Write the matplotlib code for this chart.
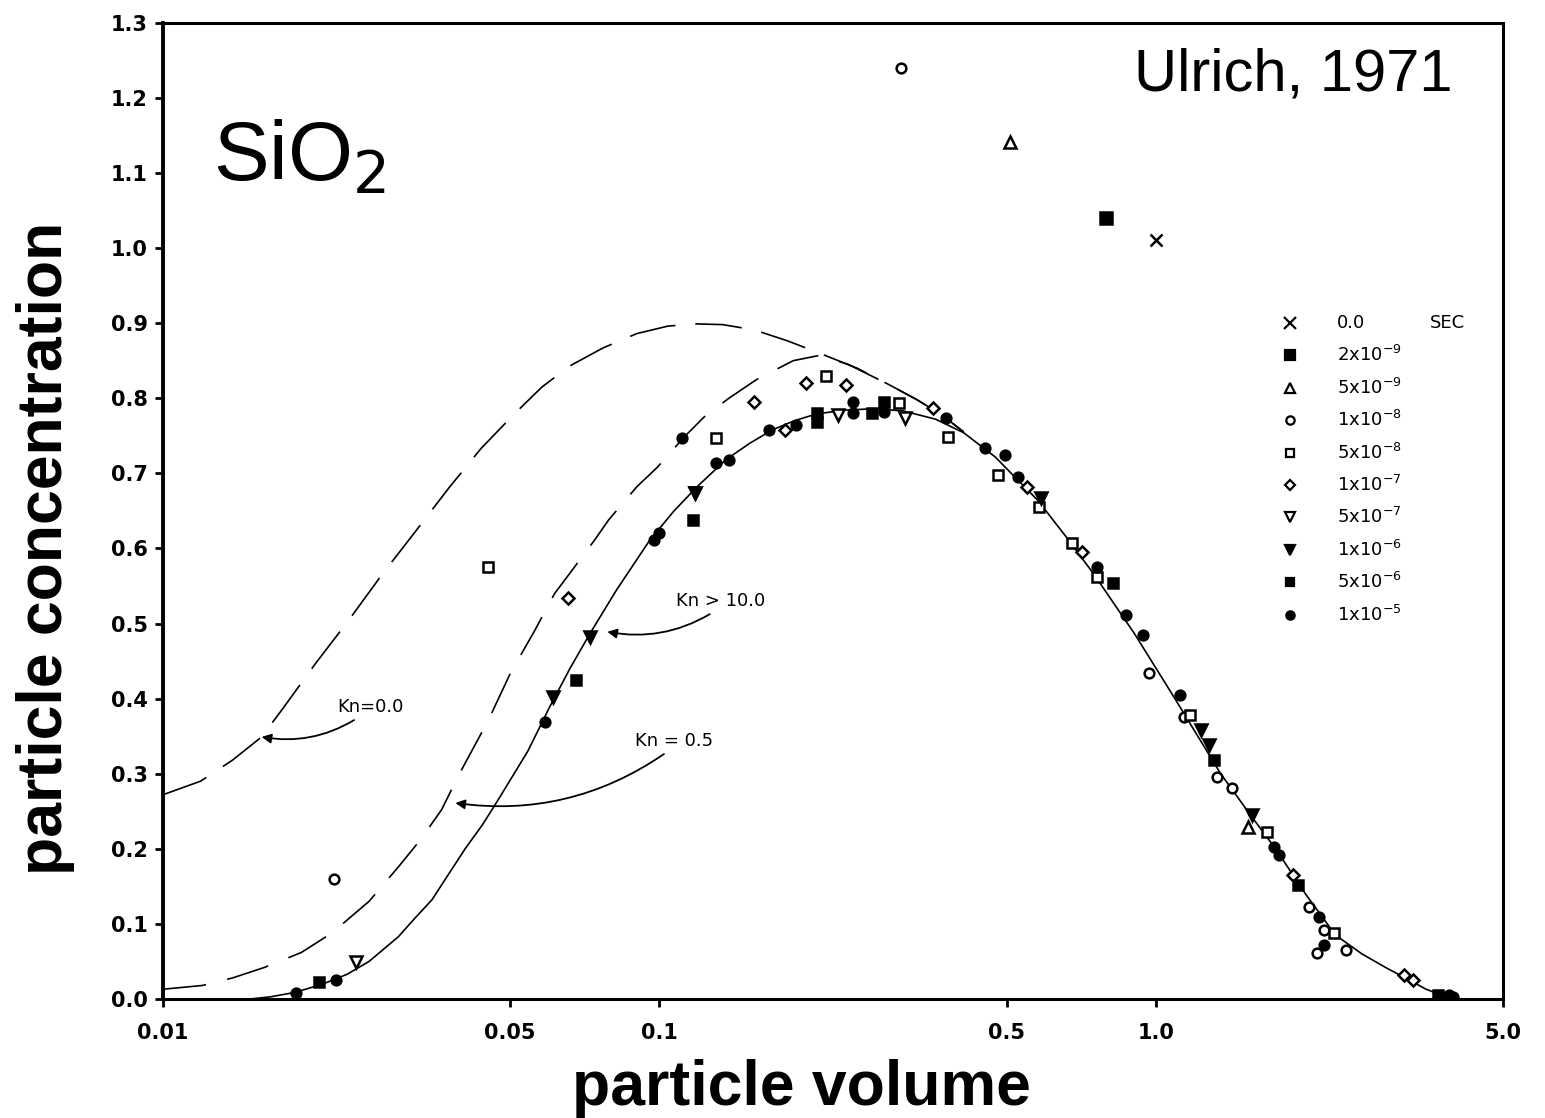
import matplotlib
matplotlib.use("Agg")
import matplotlib.pyplot as plt

# Ulrich (1971) SiO2 self-preserving size distribution

# model curves: particle volume vs particle concentration
kn10_x = [0.0150, 0.0165, 0.0185, 0.0210, 0.0235, 0.0260, 0.0298, 0.0320, 0.0348, 0.0375,
          0.0406, 0.0440, 0.0473, 0.0543, 0.0600, 0.0660, 0.0725, 0.0820, 0.0956, 0.1070,
          0.1190, 0.1360, 0.1520, 0.1690, 0.1870, 0.2070, 0.2350, 0.2700, 0.3100, 0.3600,
          0.4100, 0.4740, 0.5780, 0.6600, 0.7510, 0.9040, 1.0870, 1.3500, 1.5500, 1.7500,
          2.0000, 2.3000, 2.6000, 2.9000, 3.2000, 3.5000, 3.8000, 3.9600]
kn10_y = [0.000, 0.003, 0.009, 0.020, 0.033, 0.050, 0.083, 0.106, 0.132, 0.165,
          0.200, 0.232, 0.265, 0.330, 0.388, 0.440, 0.487, 0.545, 0.611, 0.650,
          0.682, 0.718, 0.740, 0.758, 0.770, 0.779, 0.784, 0.786, 0.783, 0.772,
          0.754, 0.722, 0.664, 0.615, 0.565, 0.487, 0.402, 0.300, 0.245, 0.198,
          0.140, 0.085, 0.060, 0.042, 0.027, 0.013, 0.004, 0.000]

kn05_x = [0.0100, 0.0120, 0.0138, 0.0160, 0.0190, 0.0219, 0.0260, 0.0298, 0.0330, 0.0364,
          0.0394, 0.0452, 0.0501, 0.0560, 0.0615, 0.0660, 0.0740, 0.0790, 0.0900, 0.0990,
          0.1120, 0.1230, 0.1380, 0.1570, 0.1860, 0.2100, 0.2400, 0.2900, 0.3300, 0.3700,
          0.4100]
kn05_y = [0.013, 0.018, 0.028, 0.042, 0.062, 0.088, 0.130, 0.176, 0.212, 0.252,
          0.298, 0.371, 0.434, 0.490, 0.540, 0.567, 0.611, 0.638, 0.682, 0.708,
          0.748, 0.775, 0.800, 0.825, 0.850, 0.857, 0.845, 0.818, 0.798, 0.778,
          0.755]

kn00_x = [0.0100, 0.0119, 0.0138, 0.0158, 0.0174, 0.0203, 0.0237, 0.0276, 0.0322, 0.0376,
          0.0437, 0.0510, 0.0580, 0.0660, 0.0770, 0.0900, 0.1040, 0.1180, 0.1340, 0.1550,
          0.1800, 0.2100, 0.2500, 0.2900, 0.3300, 0.3700, 0.4100]
kn00_y = [0.272, 0.290, 0.318, 0.349, 0.386, 0.447, 0.505, 0.565, 0.622, 0.680,
          0.733, 0.779, 0.815, 0.843, 0.867, 0.886, 0.896, 0.899, 0.898, 0.891,
          0.877, 0.860, 0.840, 0.818, 0.798, 0.778, 0.755]

# measured points, one pair of lists per residence time
labels = ["0.0", r"2x10$^{-9}$", r"5x10$^{-9}$", r"1x10$^{-8}$", r"5x10$^{-8}$",
          r"1x10$^{-7}$", r"5x10$^{-7}$", r"1x10$^{-6}$", r"5x10$^{-6}$", r"1x10$^{-5}$"]

t0_x = [1.0]
t0_y = [1.01]
t2e9_x = [0.794]
t2e9_y = [1.04]
t5e9_x = [0.508, 1.53]
t5e9_y = [1.141, 0.229]
t1e8_x = [0.306, 0.0221, 0.97, 1.14, 1.33, 1.42, 2.03, 2.18, 2.11, 2.41]
t1e8_y = [1.24, 0.16, 0.434, 0.375, 0.296, 0.281, 0.123, 0.092, 0.061, 0.065]
t5e8_x = [0.0452, 0.130, 0.216, 0.303, 0.382, 0.480, 0.58, 0.676, 0.76, 1.17, 1.67, 2.28]
t5e8_y = [0.575, 0.747, 0.83, 0.794, 0.748, 0.698, 0.655, 0.607, 0.562, 0.378, 0.222, 0.088]
t1e7_x = [0.0653, 0.155, 0.197, 0.237, 0.356, 0.549, 0.71, 0.179, 1.89, 3.16, 3.3]
t1e7_y = [0.534, 0.795, 0.82, 0.818, 0.787, 0.682, 0.595, 0.758, 0.165, 0.032, 0.025]
t5e7_x = [0.0245, 0.118, 0.229, 0.312]
t5e7_y = [0.049, 0.674, 0.778, 0.774]
t1e6_x = [0.061, 0.0725, 0.118, 0.587, 1.23, 1.28, 1.56]
t1e6_y = [0.402, 0.482, 0.674, 0.667, 0.358, 0.338, 0.245]
t5e6_x = [0.0206, 0.068, 0.117, 0.208, 0.208, 0.268, 0.283, 0.82, 1.31, 1.93, 3.7]
t5e6_y = [0.022, 0.425, 0.638, 0.78, 0.768, 0.78, 0.795, 0.554, 0.318, 0.152, 0.005]
t1e5_x = [0.0185, 0.0223, 0.0588, 0.0975, 0.1, 0.111, 0.13, 0.138, 0.166, 0.188,
          0.245, 0.245, 0.283, 0.377, 0.453, 0.497, 0.527, 0.76, 0.87, 0.94,
          1.12, 1.73, 1.77, 2.13, 2.18, 3.9, 3.97]
t1e5_y = [0.008, 0.025, 0.369, 0.611, 0.62, 0.747, 0.714, 0.718, 0.758, 0.764,
          0.795, 0.78, 0.782, 0.774, 0.734, 0.724, 0.695, 0.575, 0.511, 0.485,
          0.405, 0.202, 0.192, 0.109, 0.072, 0.005, 0.003]

xticks = [0.01, 0.05, 0.1, 0.5, 1.0, 5.0]
xticklabels = ["0.01", "0.05", "0.1", "0.5", "1.0", "5.0"]
yticks = [0.0, 0.1, 0.2, 0.3, 0.4, 0.5, 0.6, 0.7, 0.8, 0.9, 1.0, 1.1, 1.2, 1.3]

series = [(t0_x, t0_y), (t2e9_x, t2e9_y), (t5e9_x, t5e9_y), (t1e8_x, t1e8_y),
          (t5e8_x, t5e8_y), (t1e7_x, t1e7_y), (t5e7_x, t5e7_y), (t1e6_x, t1e6_y),
          (t5e6_x, t5e6_y), (t1e5_x, t1e5_y)]
# marker, size, filled
styles = [("x", 9, True), ("s", 8, True), ("^", 8, False), ("o", 7, False),
          ("s", 7, False), ("D", 6, False), ("v", 8, False), ("v", 8, True),
          ("s", 7, True), ("o", 7, True)]

fig = plt.figure(figsize=(15.45, 11.18), dpi=100)
W, H = 1545.0, 1118.0
ax = fig.add_axes([163 / W, 1 - 999 / H, (1503 - 163) / W, (999 - 22.7) / H])

ax.set_xscale("log")
ax.set_xlim(0.01, 5.0)
ax.set_ylim(0.0, 1.3)

# model curves
ax.plot(kn10_x, kn10_y, color="black", lw=1.2)
l05, = ax.plot(kn05_x, kn05_y, color="black", lw=1.2)
l05.set_dashes((26, 13))
l00, = ax.plot(kn00_x, kn00_y, color="black", lw=1.2)
l00.set_dashes((28, 12))

for (xs, ys), (m, ms, filled) in zip(series, styles):
    ax.plot(xs, ys, ls="none", marker=m, ms=ms, mew=1.8, color="black",
            mfc="black" if filled else "white", mec="black", zorder=3)

# curve labels with curved arrows
akw = dict(arrowstyle="-|>", color="black", lw=1.3, mutation_scale=14)
tkw = dict(fontsize=13, ha="center", va="center", family="DejaVu Sans")
ax.annotate("Kn=0.0", xy=(0.0158, 0.349), xytext=(0.0262, 0.389),
            arrowprops=dict(connectionstyle="arc3,rad=-0.2", shrinkB=0,
                            relpos=(0.35, 0.0), **akw), **tkw)
ax.annotate("Kn > 10.0", xy=(0.0785, 0.489), xytext=(0.133, 0.53),
            arrowprops=dict(connectionstyle="arc3,rad=-0.2", shrinkB=0,
                            relpos=(0.45, 0.0), **akw), **tkw)
ax.annotate("Kn = 0.5", xy=(0.0388, 0.261), xytext=(0.107, 0.344),
            arrowprops=dict(connectionstyle="arc3,rad=-0.2", shrinkB=0,
                            relpos=(0.45, 0.0), **akw), **tkw)

# legend drawn by hand, like the original
for i, ((m, ms, filled), lab) in enumerate(zip(styles, labels)):
    yy = 1 - (323 + 32.4 * i) / H
    ax.plot([1290 / W], [yy], transform=fig.transFigure, clip_on=False,
            marker=m, ms=ms - 1, mew=1.6, color="black",
            mfc="black" if filled else "white", mec="black")
    fig.text(1337 / W, yy, lab, fontsize=13, va="center", ha="left",
             family="DejaVu Sans")
fig.text(1430 / W, 1 - 323 / H, "SEC", fontsize=13, va="center", ha="left",
         family="DejaVu Sans")

ax.text(213 / W, 1 - 180 / H, r"SiO$_2$", transform=fig.transFigure,
        fontsize=60, family="Liberation Sans", va="baseline", ha="left")
ax.text(1452 / W, 1 - 90 / H, "Ulrich, 1971", transform=fig.transFigure,
        fontsize=43, family="Liberation Sans", va="baseline", ha="right")

ax.set_xticks(xticks)
ax.set_xticklabels(xticklabels)
ax.xaxis.set_minor_locator(matplotlib.ticker.NullLocator())
ax.set_yticks(yticks)
ax.set_yticklabels(["%.1f" % v for v in yticks])
ax.tick_params(direction="out", length=6, width=2, labelsize=15, pad=5)
ax.tick_params(axis="x", pad=11)
for lab in ax.get_xticklabels() + ax.get_yticklabels():
    lab.set_fontweight("bold")
for sp in ax.spines.values():
    sp.set_linewidth(2.2)
ax.spines["left"].set_linewidth(2.8)

fig.text(801 / W, 1 - 1088 / H, "particle volume", fontsize=45, fontweight="bold",
         family="Liberation Sans", ha="center", va="center")
fig.text(46 / W, 1 - 548 / H, "particle concentration", fontsize=45,
         fontweight="bold", family="Liberation Sans", ha="center", va="center",
         rotation=90)

fig.savefig("out.png", dpi=100)
